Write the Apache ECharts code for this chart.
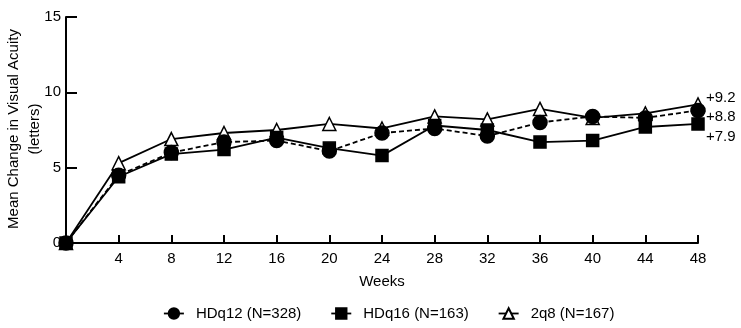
<!DOCTYPE html>
<html><head><meta charset="utf-8">
<script src="https://cdn.jsdelivr.net/npm/echarts@6/dist/echarts.min.js"></script>
<style>html,body{margin:0;padding:0;background:#fff}#c{width:741px;height:328px}</style>
</head><body><div id="c"></div>
<script>
const weeks = [0, 4, 8, 12, 16, 20, 24, 28, 32, 36, 40, 44, 48];
const hdq12 = [0, 4.5, 6.0, 6.7, 6.8, 6.1, 7.3, 7.6, 7.1, 8.0, 8.4, 8.3, 8.8];
const hdq16 = [0, 4.4, 5.9, 6.2, 7.0, 6.3, 5.8, 7.8, 7.5, 6.7, 6.8, 7.7, 7.9];
const q8 = [0, 5.3, 6.9, 7.3, 7.5, 7.9, 7.6, 8.4, 8.2, 8.9, 8.3, 8.6, 9.2];
const endLabels = ['+8.8', '+7.9', '+9.2'];
const names = ['HDq12 (N=328)', 'HDq16 (N=163)', '2q8 (N=167)'];
const yTitle = 'Mean Change in Visual Acuity\n(letters)';
const font = 'Liberation Sans, Arial, Helvetica, sans-serif';
const pairs = a => weeks.map((w, i) => [w, a[i]]);
const chart = echarts.init(document.getElementById('c'));
function mk(name, data, symbol, size, dashed, fill, endTxt, offY) {
  return {
    name, type: 'line', data: pairs(data), symbol, symbolSize: size,
    showAllSymbol: true,
    lineStyle: { color: '#000', width: 1.8, type: dashed ? [5, 3] : 'solid' },
    itemStyle: { color: fill, borderColor: '#000', borderWidth: 1.5, opacity: 1 },
    endLabel: { show: true, formatter: endTxt, color: '#000', fontSize: 15, fontFamily: font, offset: [0, offY], distance: 8 },
    emphasis: { disabled: true }, animation: false
  };
}
chart.setOption({
  animation: false,
  grid: { left: 66, top: 17, right: 43, bottom: 85, containLabel: false, outerBoundsMode: 'none' },
  graphic: [{
    type: 'text', x: 24, y: 129, rotation: Math.PI / 2, silent: true,
    style: { text: yTitle, align: 'center', verticalAlign: 'middle', fill: '#000',
      fontSize: 15, fontFamily: font, lineHeight: 21 }
  }],
  xAxis: {
    type: 'value', min: 0, max: 48, interval: 4,
    name: 'Weeks', nameLocation: 'middle', nameGap: 31,
    nameTextStyle: { color: '#000', fontSize: 15, fontFamily: font },
    axisLine: { lineStyle: { color: '#000', width: 2 } },
    axisTick: { inside: true, length: 8, lineStyle: { color: '#000', width: 2 } },
    axisLabel: { color: '#000', fontSize: 15, fontFamily: font, margin: 8, formatter: v => v === 0 ? '' : String(v) },
    splitLine: { show: false }
  },
  yAxis: {
    type: 'value', min: 0, max: 15, interval: 5,
    axisLine: { show: true, lineStyle: { color: '#000', width: 2 } },
    axisTick: { show: true, inside: true, length: 11, lineStyle: { color: '#000', width: 2 } },
    axisLabel: { color: '#000', fontSize: 15, fontFamily: font, margin: 5 },
    splitLine: { show: false }
  },
  legend: {
    bottom: 7, left: 163, padding: 0, itemWidth: 20, itemHeight: 13, itemGap: 29,
    lineStyle: { type: 'solid', width: 1.8 },
    textStyle: { color: '#000', fontSize: 15, fontFamily: font, padding: [0, 0, 0, 7] },
    data: names.map(n => ({ name: n }))
  },
  series: [
    mk(names[2], q8, 'triangle', 13, false, '#fff', endLabels[2], -6.5),
    mk(names[0], hdq12, 'circle', 14, true, '#000', endLabels[0], 6.5),
    mk(names[1], hdq16, 'rect', 12, false, '#000', endLabels[1], 12.5)
  ]
});
</script></body></html>
